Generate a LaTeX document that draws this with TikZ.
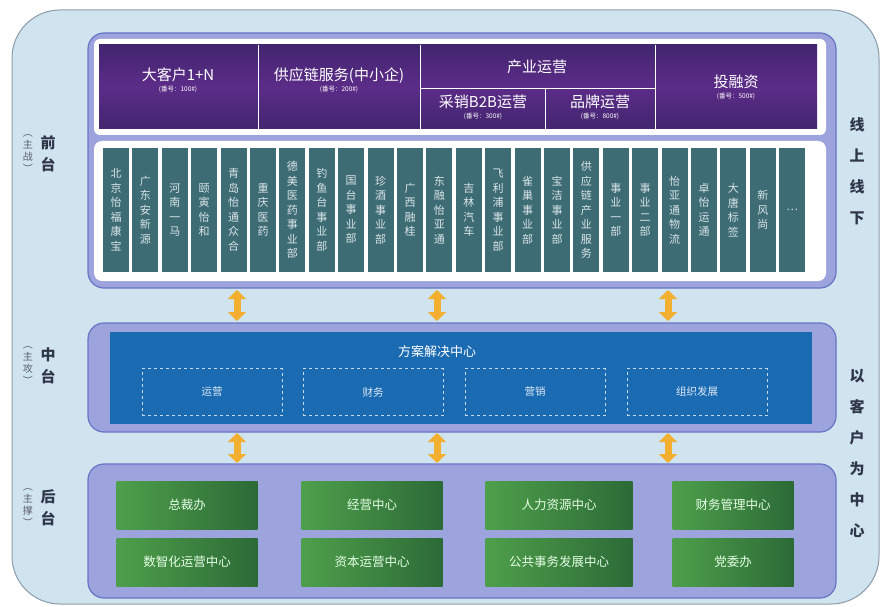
\documentclass[tikz,border=0pt]{standalone}
\usepackage{fontspec}
\setmainfont{Noto Sans CJK SC}
\usetikzlibrary{arrows.meta}
\definecolor{outerfill}{HTML}{CFE4EF}
\definecolor{outerline}{HTML}{8C9BAA}
\definecolor{panelfill}{HTML}{9DA3DD}
\definecolor{panelline}{HTML}{6874C4}
\definecolor{hdrA}{HTML}{42256F}
\definecolor{hdrB}{HTML}{5C2C88}
\definecolor{colfill}{HTML}{3E6C75}
\definecolor{coltext}{HTML}{D9E5E7}
\definecolor{bluefill}{HTML}{1B6BB3}
\definecolor{greenA}{HTML}{4E9F4B}
\definecolor{greenB}{HTML}{2C6A37}
\definecolor{arrowc}{HTML}{F3B030}
\definecolor{labelc}{HTML}{30364A}
\makeatletter
\def\vstack#1{\vstack@a#1\relax\relax}
\def\vstack@a#1#2{#1\ifx\relax#2\expandafter\@gobble\else\expandafter\@firstofone\fi{\\\vstack@a#2}}
\makeatother
\tikzset{
  panel/.style={draw=panelline, line width=1.2pt, fill=panelfill, rounded corners=16pt},
  hdrcell/.style={text=white, align=center, inner sep=0pt},
  colbox/.style={fill=colfill, minimum width=26pt, minimum height=124pt, inner sep=0pt,
    text=coltext, align=center, font=\fontsize{11}{14.5}\selectfont},
  dashbox/.style={draw=white!75!bluefill, dashed, line width=0.6pt, minimum width=140pt,
    minimum height=47pt, text=white!85!bluefill, font=\fontsize{10.5}{12}\selectfont},
  greenbox/.style={left color=greenA, right color=greenB, minimum height=48pt,
    text=white!90!green, font=\fontsize{12.5}{14}\selectfont, inner sep=0pt},
  dblarrow/.style={draw=arrowc, line width=7pt,
    {Triangle[width=18pt,length=9pt]}-{Triangle[width=18pt,length=9pt]}},
  biglabel/.style={text=labelc, align=center, font=\fontsize{15}{22}\selectfont\bfseries},
  smalllabel/.style={text=labelc!80, align=center, font=\fontsize{10}{12}\selectfont},
  sidelabel/.style={text=labelc, align=center, font=\fontsize{15}{31}\selectfont\bfseries}
}
\begin{document}
\begin{tikzpicture}[x=1pt,y=-1pt]
\useasboundingbox (0,0) rectangle (884,607);
\fill[white] (0,0) rectangle (884,607);
\draw[draw=outerline, line width=1pt, fill=outerfill, rounded corners=48pt] (12,10) rectangle (879,604);

% ===== front panel =====
\draw[panel] (88,33) rectangle (836,288);
\fill[white, rounded corners=6pt] (94,39) rectangle (826,135);
\shade[top color=hdrA, bottom color=hdrA, middle color=hdrB] (99,45) rectangle (817,129);
\draw[white, line width=0.8pt] (258,45) -- (258,129) (420,45) -- (420,129) (655,45) -- (655,129)
  (420,88) -- (655,88) (545,88) -- (545,129);
\node[hdrcell] (h1) at (178,80) {{\fontsize{15}{17}\selectfont 大客户1+N}\\[-1pt]{\fontsize{6.5}{8}\selectfont (番号：100\#)}};
\node[hdrcell] (h2) at (339,80) {{\fontsize{15}{17}\selectfont 供应链服务(中小企)}\\[-1pt]{\fontsize{6.5}{8}\selectfont (番号：200\#)}};
\node[hdrcell] (h3) at (537,67) {\fontsize{15}{17}\selectfont 产业运营};
\node[hdrcell] (h4) at (483,107) {{\fontsize{15}{17}\selectfont 采销B2B运营}\\[-1pt]{\fontsize{6.5}{8}\selectfont (番号：300\#)}};
\node[hdrcell] (h5) at (600,107) {{\fontsize{15}{17}\selectfont 品牌运营}\\[-1pt]{\fontsize{6.5}{8}\selectfont (番号：800\#)}};
\node[hdrcell] (h6) at (736,87) {{\fontsize{15}{17}\selectfont 投融资}\\[-1pt]{\fontsize{6.5}{8}\selectfont (番号：500\#)}};

\fill[white, rounded corners=8pt] (94,141) rectangle (826,281);
\foreach \t [count=\i] in {北京怡福康宝,广东安新源,河南一马,颐寅怡和,青岛怡通众合,重庆医药,德美医药事业部,钓鱼台事业部,国台事业部,珍酒事业部,广西融桂,东融怡亚通,吉林汽车,飞利浦事业部,雀巢事业部,宝洁事业部,供应链产业服务,事业一部,事业二部,怡亚通物流,卓怡运通,大唐标签,新风尚,…}{
  \node[colbox] (c\i) at ({116+(\i-1)*29.4},210) {\expandafter\vstack\expandafter{\t}};
}

% ===== middle panel =====
\draw[panel] (88,323) rectangle (836,432);
\fill[bluefill] (110,332) rectangle (812,424);
\node[text=white, font=\fontsize{13}{15}\selectfont] (mtitle) at (437,352) {方案解决中心};
\node[dashbox] (m1) at (212,392) {运营};
\node[dashbox] (m2) at (373,392) {财务};
\node[dashbox] (m3) at (535,392) {营销};
\node[dashbox] (m4) at (697,392) {组织发展};

% ===== back panel =====
\draw[panel] (88,464) rectangle (836,598);
\node[greenbox, minimum width=141pt] (g1) at (187,505) {总裁办};
\node[greenbox, minimum width=141pt] (g2) at (372,505) {经营中心};
\node[greenbox, minimum width=147pt] (g3) at (559,505) {人力资源中心};
\node[greenbox, minimum width=121pt] (g4) at (733,505) {财务管理中心};
\node[greenbox, minimum width=141pt] (g5) at (187,562) {数智化运营中心};
\node[greenbox, minimum width=141pt] (g6) at (372,562) {资本运营中心};
\node[greenbox, minimum width=147pt] (g7) at (559,562) {公共事务发展中心};
\node[greenbox, minimum width=121pt] (g8) at (733,562) {党委办};

% ===== arrows =====
\foreach \x [count=\k] in {237,437,668}{
  \coordinate (au\k) at (\x,290);
  \coordinate (ad\k) at (\x,321);
  \coordinate (bu\k) at (\x,433);
  \coordinate (bd\k) at (\x,463);
  \draw[dblarrow] (au\k) -- (ad\k);
  \draw[dblarrow] (bu\k) -- (bd\k);
}

% ===== side labels =====
\node[biglabel] (lf) at (48,154) {\vstack{前台}};
\node[smalllabel] (lfs) at (28,154) {\vstack{︵主战︶}};
\node[biglabel] (lm) at (48,366) {\vstack{中台}};
\node[smalllabel] (lms) at (28,366) {\vstack{︵主攻︶}};
\node[biglabel] (lb) at (48,508) {\vstack{后台}};
\node[smalllabel] (lbs) at (28,508) {\vstack{︵主撑︶}};
\node[sidelabel] (r1) at (857,171) {\vstack{线上线下}};
\node[sidelabel] (r2) at (857,453) {\vstack{以客户为中心}};
\end{tikzpicture}
\end{document}
